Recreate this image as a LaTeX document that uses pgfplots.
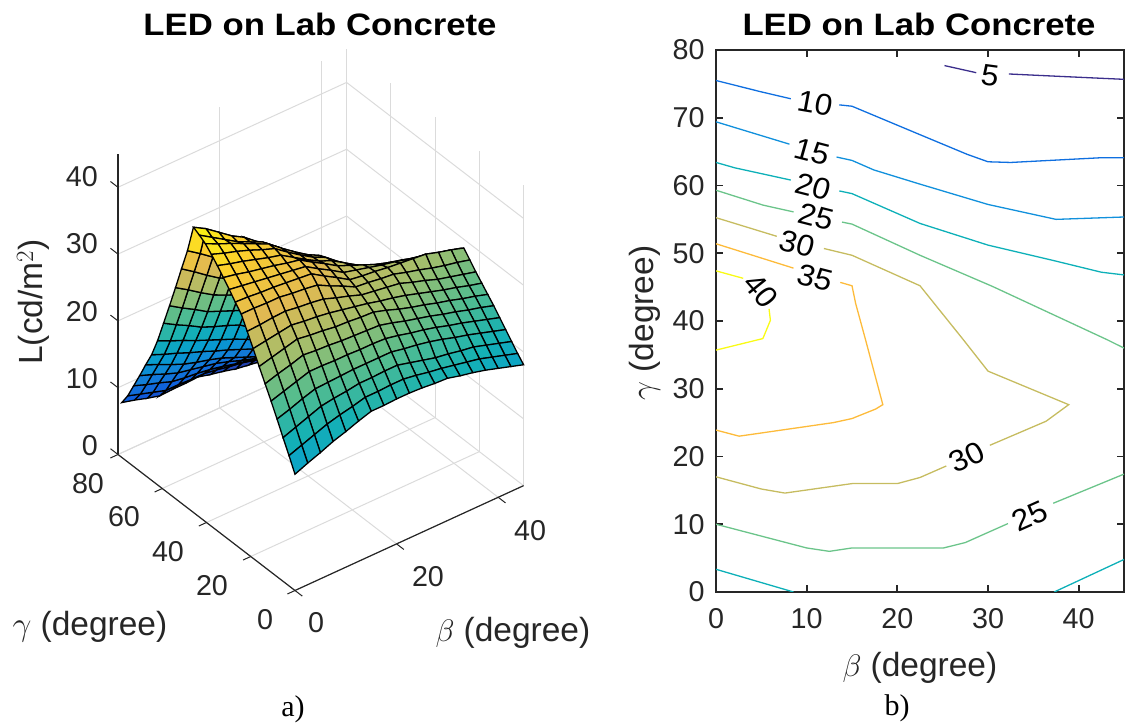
\documentclass[border=0pt]{standalone}
\usepackage{pgfplots}
\usepackage{fontspec}
\pgfplotsset{compat=1.18}
\setmainfont{Liberation Sans}
\newfontfamily\tim{Liberation Serif}
\definecolor{axc}{HTML}{262626}
\definecolor{cA}{HTML}{3B2E8C}
\definecolor{cB}{HTML}{0F6FE0}
\definecolor{cC}{HTML}{1190DC}
\definecolor{cD}{HTML}{0DB0B8}
\definecolor{cE}{HTML}{6BC48A}
\definecolor{cF}{HTML}{C6BC60}
\definecolor{cG}{HTML}{FDBB3A}
\definecolor{cH}{HTML}{F9FB15}
\pgfplotsset{colormap={parula}{rgb255=(53,42,135) rgb255=(15,92,221) rgb255=(18,125,216) rgb255=(7,156,207) rgb255=(21,177,180) rgb255=(89,189,140) rgb255=(165,190,107) rgb255=(225,185,82) rgb255=(252,206,46) rgb255=(249,251,14)}}
\newcommand{\tk}{\fontsize{28.7}{31}\selectfont\color{axc}}
\newcommand{\lb}{\fontsize{33.5}{36}\selectfont\color{axc}}
\newcommand{\gam}{\scalebox{1.35}{$\gamma$}\hspace{9pt}(degree)}
\newcommand{\bet}{\scalebox{1.25}{$\beta$}\hspace{9pt}(degree)}
\newcommand{\ttl}[1]{\scalebox{1.12}[1]{\fontsize{31}{34}\selectfont\bfseries #1}}
\begin{document}
\begin{tikzpicture}
\useasboundingbox (0,0) rectangle (1133pt,727pt);
\begin{axis}[
 at={(295pt,136.5pt)}, anchor=origin,
 x={(5.08pt,2.33pt)}, y={(-2.2125pt,1.7pt)}, z={(0pt,6.68pt)},
 xmin=0,xmax=45,ymin=0,ymax=80,zmin=0,zmax=45,
 xtick={0,20,40}, ytick={0,20,40,60,80}, ztick={0,10,20,30,40},
 xticklabels={},yticklabels={},zticklabels={},
 grid=major, grid style={color=black!14, line width=1pt},
 axis line style={draw=none}, tick style={draw=none},
 clip=false, colormap name=parula, point meta min=4, point meta max=43]
\addplot3[surf, shader=faceted, faceted color=black, line width=1.3pt, z buffer=sort, mesh/rows=30, mesh/cols=19]
 table[row sep=\\, header=false, x expr={mod(\coordindex,19)*2.5}, y expr={floor((\coordindex+0.5)/19)*2.7}, z index=0] {
17.4\\18.2\\18.9\\19.7\\20.3\\21.0\\21.6\\21.6\\21.7\\21.7\\21.6\\21.4\\21.3\\20.8\\20.4\\19.9\\19.3\\18.7\\18.1\\
19.5\\20.2\\20.9\\21.6\\22.1\\22.5\\23\\23\\23.1\\23.1\\22.8\\22.4\\22.1\\21.7\\21.3\\20.9\\20.3\\19.7\\19.1\\
21.5\\22.2\\22.9\\23.6\\23.9\\24.1\\24.4\\24.4\\24.5\\24.5\\24\\23.5\\23\\22.7\\22.3\\22\\21.4\\20.8\\20.2\\
23.6\\24.2\\24.9\\25.5\\25.6\\25.7\\25.8\\25.8\\25.8\\25.8\\25.4\\25.1\\24.7\\24.2\\23.6\\23.1\\22.5\\21.9\\21.3\\
25.6\\26.2\\26.8\\27.4\\27.4\\27.3\\27.3\\27.2\\27.2\\27.1\\26.7\\26.2\\25.8\\25.3\\24.7\\24.2\\23.6\\23\\22.4\\
27.5\\28.1\\28.6\\29.2\\29\\28.9\\28.7\\28.6\\28.5\\28.4\\27.9\\27.3\\26.8\\26.3\\25.7\\25.2\\24.6\\24.1\\23.5\\
29.4\\29.9\\30.4\\30.9\\30.6\\30.4\\30.1\\30\\29.8\\29.7\\29.1\\28.4\\27.8\\27.3\\26.7\\26.2\\25.6\\25.1\\24.5\\
31.4\\31.7\\32\\32.3\\32\\31.8\\31.5\\31.1\\30.7\\30.3\\29.8\\29.4\\28.9\\28.3\\27.7\\27.1\\26.6\\26\\25.5\\
33.3\\33.4\\33.6\\33.7\\33.4\\33.2\\32.9\\32.2\\31.6\\30.9\\30.6\\30.3\\30\\29.3\\28.7\\28\\27.5\\27\\26.5\\
35.2\\35.2\\35.1\\35.1\\34.8\\34.6\\34.3\\33.3\\32.4\\31.4\\31.2\\30.9\\30.7\\30.1\\29.6\\29\\28.5\\28.1\\27.6\\
36.3\\36.2\\36\\35.9\\35.7\\35.5\\35.3\\34.1\\33\\31.8\\31.5\\31.3\\31\\30.8\\30.6\\30.4\\29.8\\29.3\\28.7\\
37.5\\37.2\\36.9\\36.6\\36.3\\36\\35.7\\34.5\\33.4\\32.2\\31.7\\31.2\\30.7\\30.3\\29.8\\29.4\\28.9\\28.4\\27.9\\
38.6\\38.2\\37.7\\37.3\\36.9\\36.4\\36\\34.8\\33.7\\32.5\\31.7\\30.9\\30.1\\29.5\\29\\28.4\\27.8\\27.3\\26.7\\
39.7\\39.1\\38.6\\38\\37.4\\36.9\\35.7\\34.5\\33.4\\32.6\\31.4\\30.2\\29\\28.4\\27.9\\27.3\\26.6\\26\\25.3\\
40.7\\40\\39.4\\38.7\\37.9\\37.2\\35.8\\34.5\\33.3\\32.4\\30.9\\29.4\\27.9\\27.3\\26.8\\26.2\\25.5\\24.7\\24\\
41.6\\40.7\\39.9\\39\\38.1\\37.2\\35.7\\34.3\\33\\32\\30.3\\28.5\\26.8\\26.2\\25.7\\25.1\\24.3\\23.6\\22.8\\
42.2\\41\\39.8\\38.6\\37.7\\36.8\\35.3\\33.7\\32.4\\31.2\\29.4\\27.6\\25.8\\25.1\\24.3\\23.6\\23\\22.3\\21.7\\
42.7\\41.6\\40.2\\38.8\\37.7\\36.2\\34.6\\32.6\\31\\29.4\\27.7\\26\\24.3\\23.6\\23\\22.3\\21.7\\21\\20.4\\
38.5\\37.2\\35.8\\34.5\\33.4\\32.3\\31.2\\29.5\\27.9\\26.2\\24.8\\23.5\\22.1\\21.5\\20.8\\20.2\\19.8\\19.4\\19\\
35.1\\33.8\\32.4\\31.1\\30.2\\29.2\\28.3\\26.6\\25\\23.3\\22.2\\21\\19.9\\19.3\\18.7\\18.1\\17.9\\17.6\\17.4\\
31.6\\30.4\\29.1\\27.9\\27\\26.2\\25.3\\23.7\\22\\20.4\\19.5\\18.6\\17.7\\17.1\\16.4\\15.8\\15.8\\15.8\\15.8\\
28.2\\27\\25.9\\24.7\\23.9\\23.1\\22.3\\20.8\\19.4\\17.9\\17.1\\16.2\\15.4\\14.9\\14.5\\14\\14.1\\14.1\\14.2\\
24.9\\23.8\\22.8\\21.7\\20.9\\20.2\\19.4\\18.1\\16.9\\15.6\\14.8\\14.1\\13.3\\13\\12.8\\12.5\\12.6\\12.6\\12.7\\
21.6\\20.7\\19.9\\19\\18.2\\17.4\\16.6\\15.7\\14.7\\13.8\\12.9\\12\\11.1\\11.1\\11\\11\\11\\11.1\\11.1\\
18.8\\18\\17.3\\16.5\\15.8\\15\\14.3\\13.5\\12.7\\11.9\\11.1\\10.3\\9.5\\9.5\\9.4\\9.4\\9.5\\9.6\\9.7\\
16.6\\15.8\\14.9\\14.1\\13.5\\13\\12.4\\11.6\\10.8\\10\\9.5\\9.1\\8.6\\8.6\\8.6\\8.6\\8.6\\8.5\\8.5\\
14.3\\13.6\\12.8\\12.1\\11.7\\11.3\\10.9\\10.3\\9.6\\9\\8.6\\8.1\\7.7\\7.7\\7.8\\7.8\\7.7\\7.5\\7.4\\
12.1\\11.4\\10.8\\10.1\\9.8\\9.6\\9.3\\8.9\\8.4\\8\\7.6\\7.2\\6.8\\6.9\\6.9\\7\\6.7\\6.5\\6.2\\
9.9\\9.3\\8.7\\8.1\\8.1\\8\\8\\7.7\\7.3\\7\\6.5\\6\\5.5\\5.4\\5.4\\5.3\\5.2\\5.1\\5\\
8.2\\7.7\\7.1\\6.6\\6.7\\6.7\\6.8\\6.3\\5.9\\5.4\\5.1\\4.8\\4.5\\4.4\\4.3\\4.2\\4.1\\4.1\\4\\
};
\draw[axc,line width=1.7pt] (axis cs:0,80,0) -- (axis cs:0,80,45);
\draw[axc,line width=1.2pt] (axis cs:0,80,0) -- (axis cs:0,0,0) -- (axis cs:45,0,0);
\foreach \v in {0,10,20,30,40} {\edef\t{\noexpand\draw[axc,line width=1pt] (axis cs:0,80,\v) -- (axis cs:0,83.4,\v);}\t}
\foreach \v in {0,20,40,60,80} {\edef\t{\noexpand\draw[axc,line width=1pt] (axis cs:0,\v,0) -- (axis cs:-1.5,\v,0);}\t}
\foreach \v in {0,20,40} {\edef\t{\noexpand\draw[axc,line width=1pt] (axis cs:\v,0,0) -- (axis cs:\v,-3.3,0);}\t}
\end{axis}
\begin{axis}[
 at={(716pt,135pt)}, anchor=south west, width=408pt, height=542pt, scale only axis,
 xmin=0,xmax=45,ymin=0,ymax=80, xtick={0,10,20,30,40}, ytick={0,10,...,80},
 tick align=inside, major tick length=7pt, axis line style={draw=axc,line width=2pt},
 tick style={draw=axc,line width=1.7pt}, xtick pos=both, ytick pos=both,
 xticklabel pos=bottom, yticklabel pos=left,
 tick label style={font=\tk}, /pgf/number format/assume math mode=true,
 xticklabel style={yshift=-13pt}, yticklabel style={xshift=-8pt},
 every axis plot/.append style={no marks, line width=1.3pt}]
\addplot[cA] coordinates {(25.2,77.7)(28.7,76.65)};
\addplot[cA] coordinates {(32.3,76.46)(38,76.1)(45,75.67)};
\addplot[cB] coordinates {(0,75.5)(4.9,73.85)(8.25,72.8)};
\addplot[cB] coordinates {(13.6,71.9)(15,71.7)(22.5,67.5)(27.7,64.6)(30,63.5)(32.5,63.4)(42.5,64.1)(45,64.1)};
\addplot[cC] coordinates {(0,69.4)(8.1,66.1)};
\addplot[cC] coordinates {(13.3,64.2)(15,63.7)(17.4,62.3)(22.5,60.2)(30,57.2)(37.5,55)(45,55.35)};
\addplot[cD] coordinates {(0,63.4)(2.1,62.6)(8.25,60.8)};
\addplot[cD] coordinates {(13.6,59.2)(15,58.8)(22.5,54.4)(30,51.2)(37.3,48.9)(42.5,47.2)(45,46.8)};
\addplot[cE] coordinates {(0,59.3)(5.2,57.1)(8.55,56.1)};
\addplot[cE] coordinates {(13.9,54.6)(15,54.3)(22.5,49.7)(30.5,45.1)(43.2,37.2)(45,36)};
\addplot[cF] coordinates {(0,55.25)(6.7,52.5)};
\addplot[cF] coordinates {(11.9,50.7)(15,49.7)(22.5,45.2)(27.3,37.2)(30,32.6)(38.9,27.65)(36.4,25.2)(30.2,21.65)};
\addplot[cF] coordinates {(25.4,18.6)(22.5,16.9)(20,16)(15,16)(7.6,14.6)(5,15.2)(0,17)};
\addplot[cG] coordinates {(0,51.4)(8.55,47.8)};
\addplot[cG] coordinates {(13.7,45.7)(15,45.2)(15.4,42.6)(16.5,37.2)(18.4,27.65)(17.6,27)(15,25.6)(12.95,25)(2.55,23)(0,23.9)};
\addplot[cH] coordinates {(0,47.4)(3,46.3)};
\addplot[cH] coordinates {(5.85,41.8)(6,40.1)(5.2,37.5)(5.15,37.4)(0,35.7)};
\addplot[cE] coordinates {(0,10)(10,6.5)(12.5,6)(15,6.5)(25.1,6.5)(27.5,7.3)(32.2,10.1)};
\addplot[cE] coordinates {(37.2,13.1)(45,17.4)};
\addplot[cD] coordinates {(0,3.35)(8.55,0)};
\addplot[cD] coordinates {(37.3,0)(45,4.8)};
\end{axis}
\begin{scope}[shift={(0,727pt)},x=1pt,y=-1pt]
\node[anchor=center] at (320,24) {\ttl{LED on Lab Concrete}};
\node[anchor=center] at (919,24) {\ttl{LED on Lab Concrete}};
\foreach \y/\l in {446/0,379/10,312/20,244/30,177/40} {\node[anchor=east,inner sep=0pt] at (98,\y) {\tk\l};}
\foreach \x/\y/\l in {88/484/80,124/517/60,168/552/40,212/586/20,265/620/0,316/623/0,428/577/20,530/531/40} {\node[inner sep=0pt] at (\x,\y) {\tk\l};}
\node[rotate=90,inner sep=0pt] at (33,302) {\lb L(cd/m$^{2}$)};
\node[inner sep=0pt] at (90,627) {\lb\gam};
\node[inner sep=0pt] at (513,633) {\lb\bet};
\node[inner sep=0pt] at (920,668) {\lb\bet};
\node[rotate=90,inner sep=0pt] at (645,323) {\lb\gam};
\node[inner sep=0pt] at (293,709) {\fontsize{30}{32}\selectfont\tim a)};
\node[inner sep=0pt] at (897,708) {\fontsize{30}{32}\selectfont\tim b)};
\foreach \x/\y/\r/\l in {990/76/-8/5,815/103/-10/10,812/152/-15/15,813/187/-15/20,816/217/-15/25,797/244/-15/30,815/278/-15/35,761/291/-50/40,967/457/25/30,1030/516/25/25} {
 \node[transform shape, inner sep=0pt, xscale=1.05, rotate=\r] at (\x,\y) {\fontsize{30}{32}\selectfont\l};}
\end{scope}
\end{tikzpicture}
\end{document}
